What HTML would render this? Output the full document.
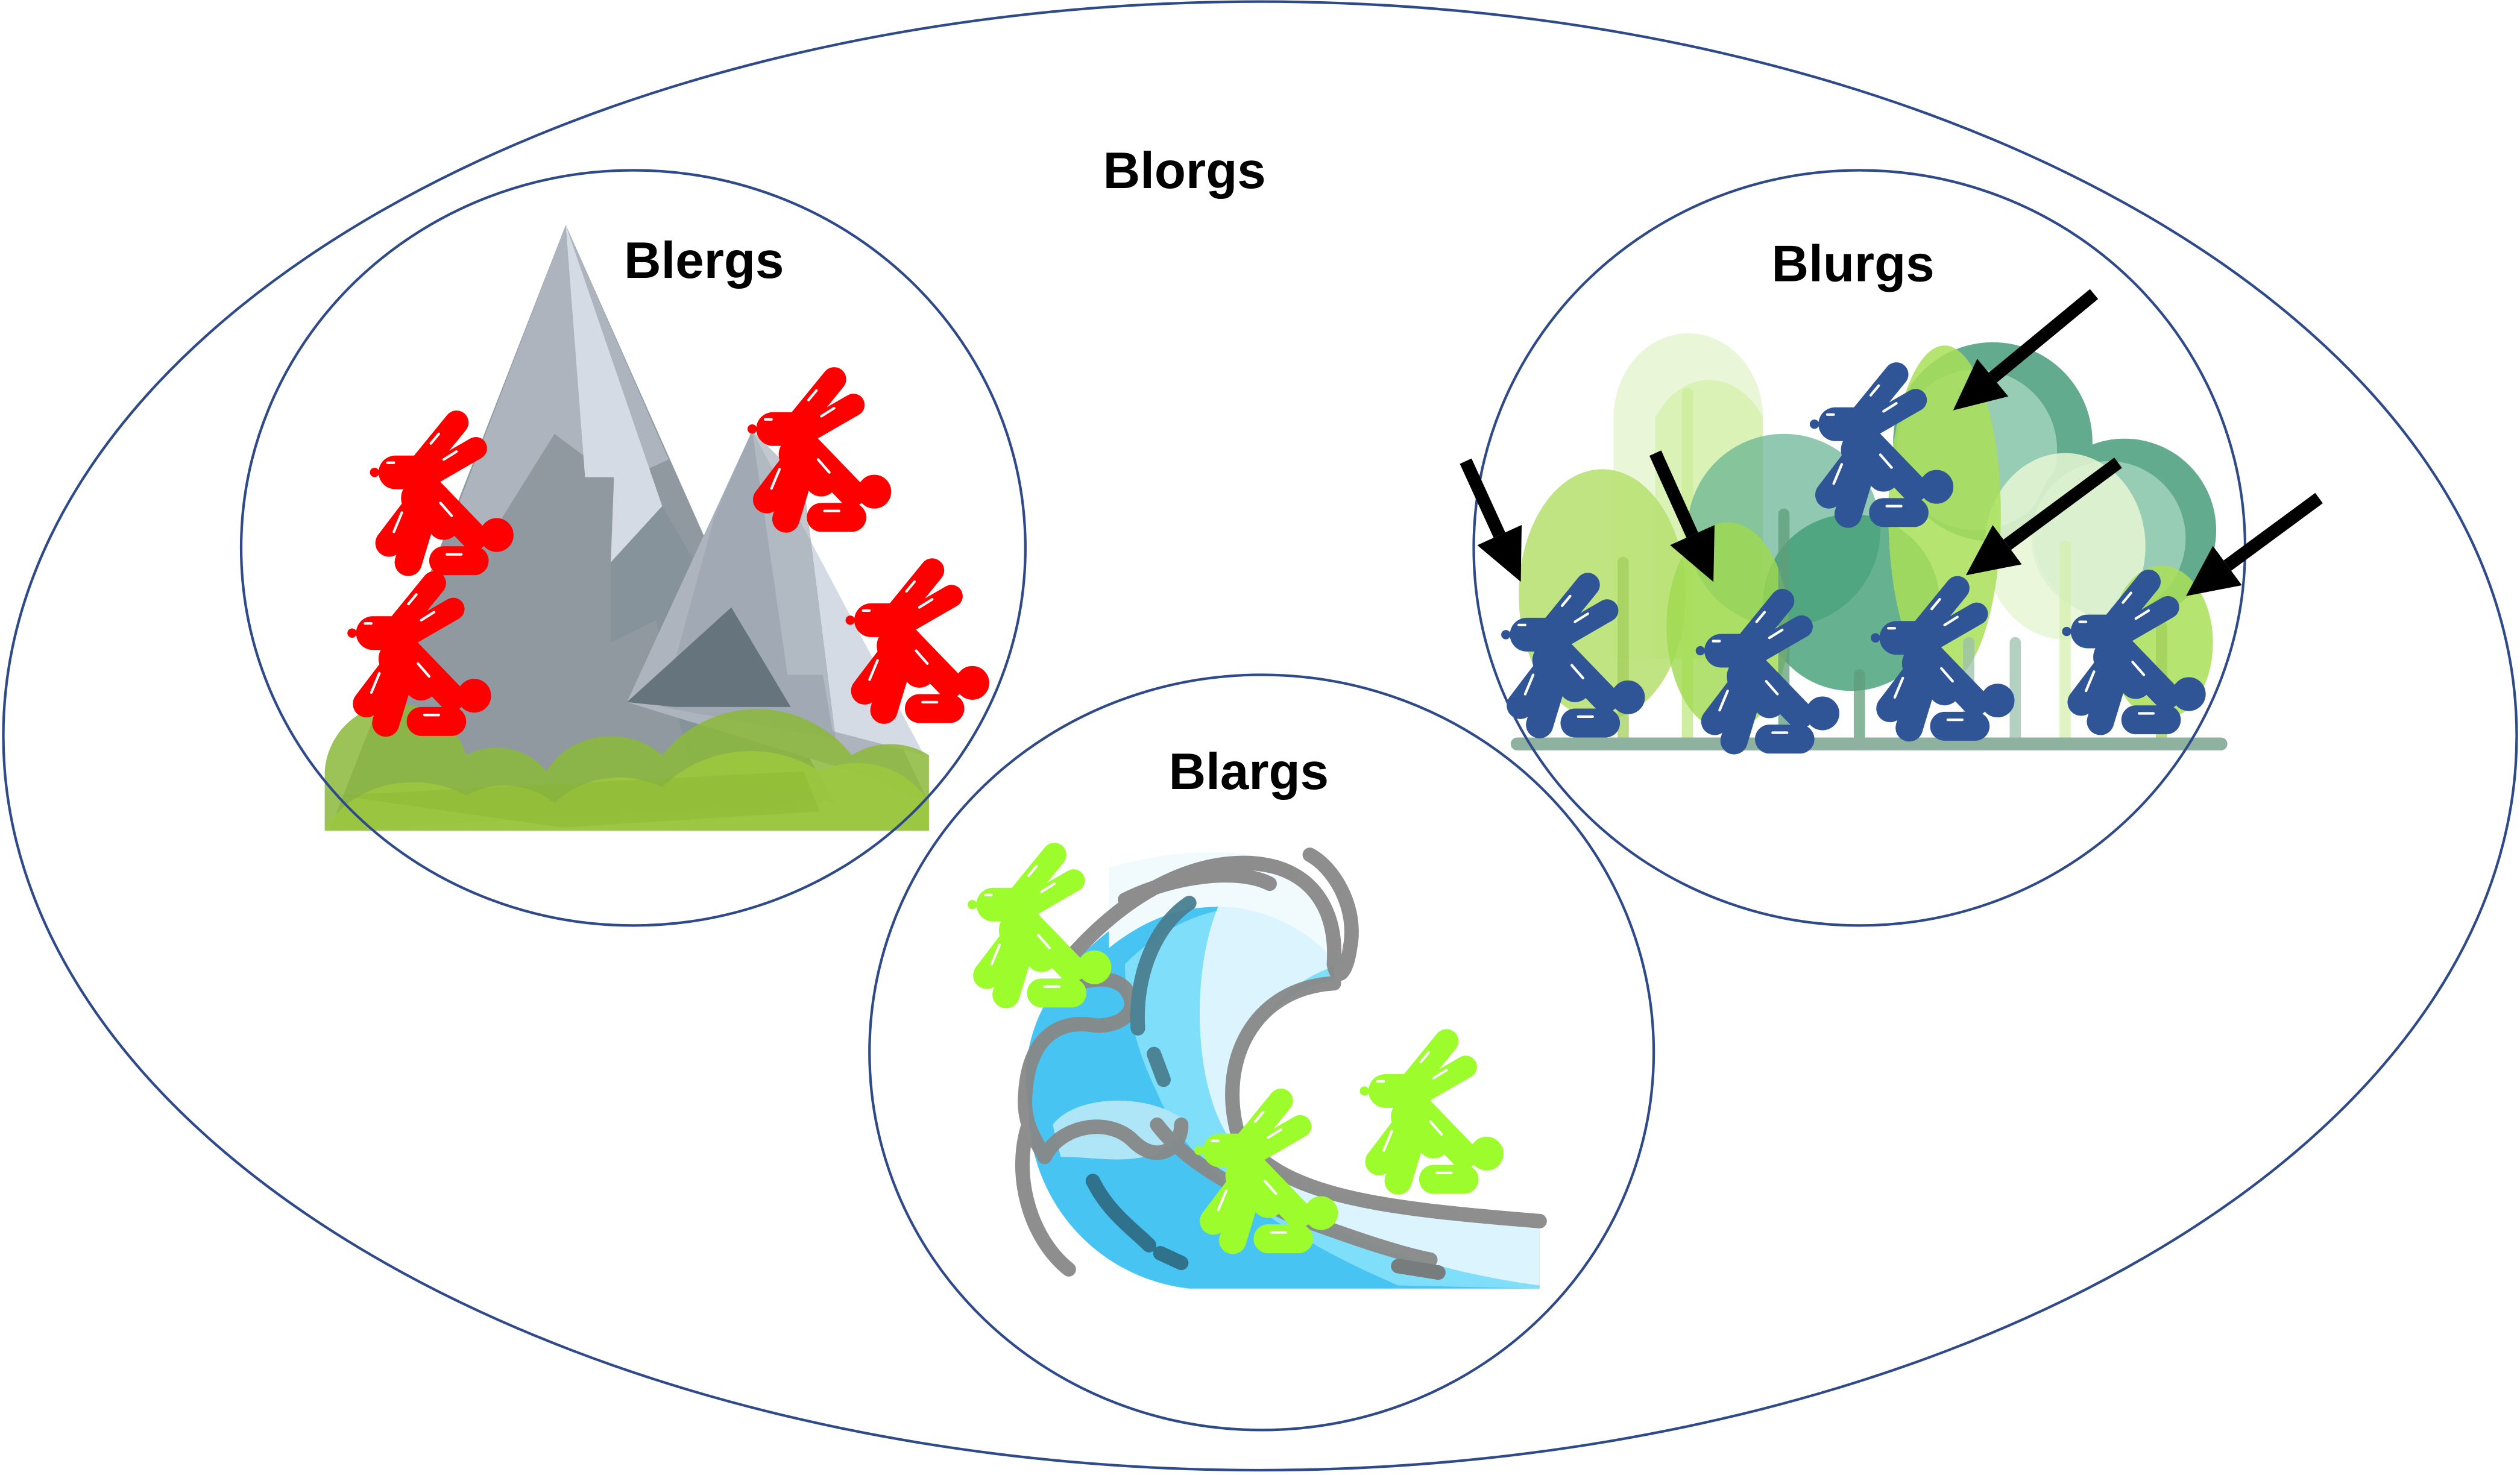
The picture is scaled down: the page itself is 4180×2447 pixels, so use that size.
<!DOCTYPE html>
<html><head><meta charset="utf-8"><style>
html,body{margin:0;padding:0;background:#fff;}
svg{display:block;}
text{font-family:"Liberation Sans",Arial,sans-serif;font-weight:bold;fill:#000;}
</style></head><body>
<svg width="4180" height="2447" viewBox="0 0 1568 918" xmlns="http://www.w3.org/2000/svg">
<defs>
<marker id="ah" viewBox="0 0 10 10" refX="0" refY="5" markerWidth="4" markerHeight="3.8" orient="auto" preserveAspectRatio="none">
<path d="M0,0 L10,5 L0,10 z" fill="#000"/>
</marker>
<g id="rab">
<circle cx="1" cy="0" r="2.4"/>
<line x1="3" y1="0" x2="8" y2="0" stroke-width="2.4"/>
<line x1="14" y1="0" x2="28" y2="0" stroke-width="21"/>
<line x1="30" y1="-4" x2="52" y2="-31" stroke-width="15"/>
<line x1="38" y1="0" x2="64" y2="-15" stroke-width="14"/>
<circle cx="29" cy="16" r="11"/>
<line x1="29" y1="19" x2="10" y2="44" stroke-width="17"/>
<line x1="32" y1="23" x2="22" y2="56" stroke-width="17"/>
<line x1="36" y1="12" x2="63" y2="40" stroke-width="17"/>
<line x1="30" y1="8" x2="44" y2="32" stroke-width="20"/>
<circle cx="77" cy="39" r="10"/>
<line x1="44" y1="55" x2="63" y2="55" stroke-width="18"/>
<g stroke="#fff" stroke-width="1.6">
<line x1="9" y1="-6" x2="13" y2="-6"/>
<line x1="36" y1="-18" x2="41" y2="-24"/>
<line x1="44" y1="-8" x2="52" y2="-13"/>
<line x1="42" y1="19" x2="49" y2="27"/>
<line x1="18" y1="25" x2="13" y2="37"/>
<line x1="46" y1="51" x2="55" y2="51"/>
</g>
</g>
</defs>
<rect width="1568" height="918" fill="#fff"/>

<!-- Mountains -->
<polygon points="352,140 205,517 512,500" fill="#8f999f"/>
<polygon points="352,140 286,312 300,342 345,270 385,300 416,286" fill="#adb4bd"/>
<polygon points="352,140 364,297 382,297 380,350 412,315" fill="#d5dbe4"/>
<polygon points="412,315 380,350 380,400 408,386 430,480 520,500" fill="#86939b"/>
<polygon points="468,268 390,437 530,480 578,500" fill="#adb4bd"/>
<polygon points="468,268 490,420 512,420 518,455 575,470" fill="#d5dbe4"/>
<polygon points="468,268 445,320 412,440 520,460 500,300" fill="#9aa3ad" opacity="0.6"/>
<polygon points="390,437 455,378 492,440 420,440" fill="#66757d"/>
<g fill="#8bb83a" opacity="0.85">
<path d="M202,517 L202,480 A45,45 0 0 1 290,470 A40,40 0 0 1 340,480 A45,40 0 0 1 412,470 A75,75 0 0 1 530,470 A45,45 0 0 1 578,470 L578,517 Z"/>
</g>
<g fill="#9cc83e" opacity="0.85">
<path d="M202,517 A60,50 0 0 1 290,495 A45,40 0 0 1 345,500 A55,50 0 0 1 412,490 A75,70 0 0 1 510,480 A50,45 0 0 1 578,500 L578,517 Z"/>
</g>
<polygon points="210,495 350,515 510,505 500,480" fill="#86b42f" opacity="0.4"/>

<!-- Forest -->
<g>
<path d="M1004,410 L1004,260 A46,52 0 0 1 1097,260 L1097,410 Z" fill="#e9f7d8"/>
<path d="M1030,410 L1030,260 A40,52 0 0 1 1097,260 L1097,410 Z" fill="#d7f0ae" opacity="0.8"/>
<line x1="1050" y1="245" x2="1050" y2="460" stroke="#cfeea0" stroke-width="7" stroke-linecap="round"/>
<circle cx="1110" cy="330" r="60" fill="#63b090" opacity="0.7"/>
<circle cx="1240" cy="275" r="62" fill="#63ab8e"/>
<circle cx="1230" cy="280" r="50" fill="#a5d6bf" opacity="0.8"/>
<circle cx="1322" cy="330" r="57" fill="#63ab8e"/>
<circle cx="1312" cy="335" r="48" fill="#a5d6bf" opacity="0.8"/>
<circle cx="1152" cy="375" r="55" fill="#3f9e74" opacity="0.8"/>
<ellipse cx="1285" cy="340" rx="50" ry="58" fill="#e6f6d4" opacity="0.85"/>
<ellipse cx="997" cy="370" rx="52" ry="78" fill="#b8e173" opacity="0.9"/>
<ellipse cx="1075" cy="390" rx="38" ry="65" fill="#9fda4f" opacity="0.8"/>
<ellipse cx="1210" cy="320" rx="35" ry="105" fill="#a9df58" opacity="0.85"/>
<ellipse cx="1345" cy="400" rx="32" ry="48" fill="#a9df58" opacity="0.85"/>
<g stroke-width="7" stroke-linecap="round" opacity="0.75">
<line x1="1010" y1="350" x2="1010" y2="460" stroke="#a3cf5c"/>
<line x1="1110" y1="320" x2="1110" y2="460" stroke="#5f9e7a"/>
<line x1="1157" y1="420" x2="1157" y2="460" stroke="#5f9e7a"/>
<line x1="1225" y1="400" x2="1225" y2="460" stroke="#9cc1ad"/>
<line x1="1254" y1="400" x2="1254" y2="460" stroke="#9cc1ad"/>
<line x1="1285" y1="340" x2="1285" y2="460" stroke="#d5efb0"/>
<line x1="1345" y1="390" x2="1345" y2="460" stroke="#a3cf5c"/>
</g>
<line x1="944" y1="463" x2="1382" y2="463" stroke="#8fb19f" stroke-width="8" stroke-linecap="round"/>
</g>

<!-- Wave -->
<g>
<path d="M640,690 C630,635 665,590 720,560 C760,540 800,540 830,575 L830,610 C790,615 760,660 775,705 C800,745 860,755 958,762 L958,802 L740,802 C680,795 640,745 640,690 Z" fill="#48c4f2"/>
<path d="M700,600 C740,560 790,555 825,580 L830,610 C790,615 760,660 775,705 C800,745 860,755 958,762 L958,802 L870,800 C800,770 740,730 720,680 C705,650 700,620 700,600 Z" fill="#7fdffb"/>
<path d="M760,560 C800,540 830,560 835,600 C790,612 760,660 775,705 C800,745 860,755 958,762 L958,800 C880,790 800,760 775,720 C740,690 740,600 760,560Z" fill="#dcf4fd"/>
<path d="M690,540 C740,525 790,528 815,545 C828,560 835,585 832,600 C820,585 800,570 770,565 C740,562 715,570 690,590Z" fill="#f1fafd"/>
<path d="M655,700 C670,680 720,680 740,700 C720,730 690,720 660,720Z" fill="#aee6f8"/>
<g fill="none" stroke="#888" stroke-width="9" stroke-linecap="round" opacity="0.95">
<path d="M665,597 C710,545 760,530 795,540 C820,548 832,570 830,600 C832,612 838,605 840,590 C845,565 830,540 815,532"/>
<path d="M700,560 C730,545 770,540 790,550"/>
<path d="M652,620 C670,610 690,605 700,615 C712,630 695,640 680,638 C655,634 640,650 638,680 C636,700 645,710 650,720"/>
<path d="M640,700 C630,730 640,770 665,790"/>
<path d="M830,612 C780,615 758,660 770,705 C795,745 860,752 958,760"/>
<path d="M650,720 C660,700 690,695 705,710 C720,725 735,715 735,700"/>
<path d="M720,700 C735,720 760,735 800,755 C840,770 870,780 890,784"/>
<path d="M740,562 C720,575 706,605 708,640" stroke="#4a7f90"/>
<path d="M718,656 L724,672" stroke="#4a7f90"/>
<path d="M680,735 C690,755 705,765 715,775" stroke="#2f6d86"/>
<path d="M722,780 L735,786" stroke="#2f6d86"/>
<path d="M870,788 L895,792" stroke="#777"/>
</g>
</g>

<!-- Ellipses -->
<g fill="none" stroke="#2f4a8a" stroke-width="1.6">
<ellipse cx="784" cy="458" rx="782" ry="457"/>
<ellipse cx="394" cy="341" rx="244" ry="235"/>
<ellipse cx="1157" cy="341" rx="240" ry="235"/>
<ellipse cx="785" cy="655" rx="244" ry="235"/>
</g>

<!-- Rabbits -->
<g fill="#ff0000" stroke="#ff0000" stroke-linecap="round">
<use href="#rab" x="232" y="294"/>
<use href="#rab" x="218" y="394"/>
<use href="#rab" x="467" y="267"/>
<use href="#rab" x="528" y="386"/>
</g>
<g fill="#2f5597" stroke="#2f5597" stroke-linecap="round">
<use href="#rab" x="1128" y="264"/>
<use href="#rab" x="936" y="395"/>
<use href="#rab" x="1057" y="405"/>
<use href="#rab" x="1166" y="397"/>
<use href="#rab" x="1285" y="393"/>
</g>
<g fill="#9cfc2c" stroke="#9cfc2c" stroke-linecap="round">
<use href="#rab" x="604" y="563"/>
<use href="#rab" x="848" y="679"/>
<use href="#rab" x="745" y="716"/>
</g>

<!-- Arrows -->
<g stroke="#000" stroke-width="8" marker-end="url(#ah)">
<line x1="1303" y1="183" x2="1240" y2="235"/>
<line x1="912" y1="287" x2="933" y2="333"/>
<line x1="1030" y1="282" x2="1053" y2="333"/>
<line x1="1318" y1="288" x2="1249" y2="339"/>
<line x1="1443" y1="310" x2="1386" y2="352"/>
</g>

<!-- Labels -->
<text x="737" y="117" font-size="32" text-anchor="middle">Blorgs</text>
<text x="438" y="173" font-size="32" text-anchor="middle">Blergs</text>
<text x="1153" y="175" font-size="32" text-anchor="middle">Blurgs</text>
<text x="777" y="491" font-size="32" text-anchor="middle">Blargs</text>
</svg>
</body></html>
